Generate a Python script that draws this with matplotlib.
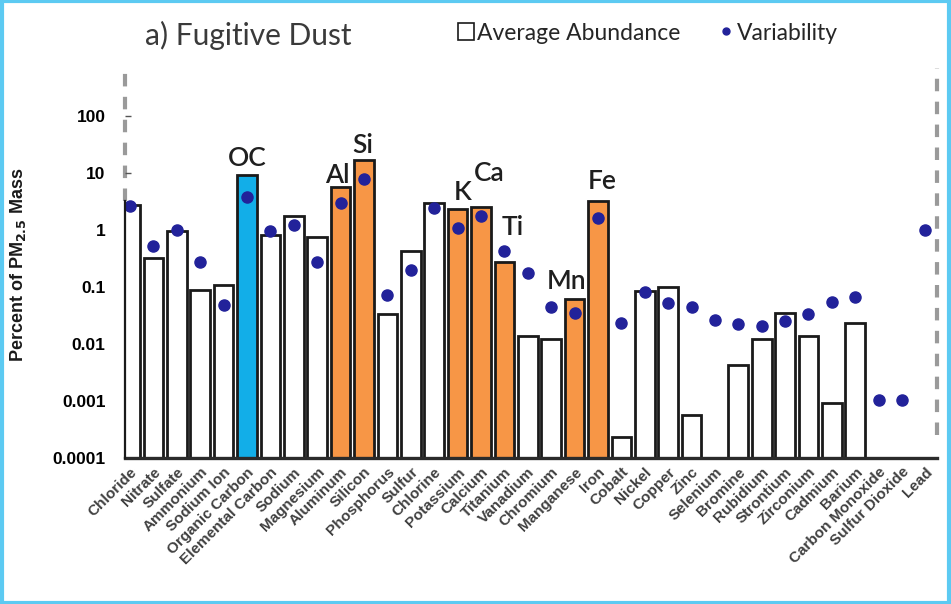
import matplotlib
matplotlib.use("Agg")
import matplotlib.pyplot as plt
import numpy as np
from matplotlib.patches import Patch, Rectangle
from matplotlib.lines import Line2D

# Species (x axis), in plotting order
species = [
    "Chloride", "Nitrate", "Sulfate", "Ammonium", "Sodium Ion",
    "Organic Carbon", "Elemental Carbon", "Sodium", "Magnesium", "Aluminum",
    "Silicon", "Phosphorus", "Sulfur", "Chlorine", "Potassium",
    "Calcium", "Titanium", "Vanadium", "Chromium", "Manganese",
    "Iron", "Cobalt", "Nickel", "Copper", "Zinc",
    "Selenium", "Bromine", "Rubidium", "Strontium", "Zirconium",
    "Cadmium", "Barium", "Carbon Monoxide", "Sulfur Dioxide", "Lead",
]

# Average abundance (% of PM2.5 mass); NaN = not reported
abundance = [
    2.8, 0.32, 0.97, 0.087, 0.11,
    9.3, 0.83, 1.74, 0.74, 5.6,
    16.7, 0.033, 0.43, 3.0, 2.36,
    2.5, 0.27, 0.0137, 0.012, 0.062,
    3.2, 0.00023, 0.084, 0.099, 0.00056,
    np.nan, 0.0043, 0.0124, 0.035, 0.0137,
    0.00093, 0.023, np.nan, np.nan, np.nan,
]

# Variability (% of PM2.5 mass)
variability = [
    2.67, 0.52, 1.0, 0.28, 0.048,
    3.8, 0.95, 1.24, 0.28, 2.97,
    7.9, 0.073, 0.2, 2.4, 1.1,
    1.74, 0.42, 0.176, 0.044, 0.035,
    1.62, 0.023, 0.081, 0.052, 0.044,
    0.026, 0.022, 0.021, 0.025, 0.034,
    0.054, 0.066, 0.00105, 0.00105, 1.0,
]

# Highlighted species: label text and bar colour
highlight = {
    "Organic Carbon": ("OC", "#12aee8"),
    "Aluminum": ("Al", "#f79646"),
    "Silicon": ("Si", "#f79646"),
    "Potassium": ("K", "#f79646"),
    "Calcium": ("Ca", "#f79646"),
    "Titanium": ("Ti", "#f79646"),
    "Manganese": ("Mn", "#f79646"),
    "Iron": ("Fe", "#f79646"),
}

# label anchor offsets (x shift in bar units, y factor on bar height)
label_pos = {
    "OC": (0.0, 1.95), "Al": (-0.15, 1.6), "Si": (-0.05, 1.8),
    "K": (0.2, 1.9), "Ca": (0.35, 3.9), "Ti": (0.35, 4.1),
    "Mn": (-0.35, 2.0), "Fe": (0.2, 2.2),
}

yticks = [1e-4, 1e-3, 1e-2, 1e-1, 1, 10, 100]
yticklabels = ["0.0001", "0.001", "0.01", "0.1", "1", "10", "100"]

fig = plt.figure(figsize=(9.51, 6.04), dpi=100)
ax = fig.add_axes([0.1314, 0.2417, 0.854, 0.6606])

x = np.arange(len(species))
colors = [highlight[s][1] if s in highlight else "white" for s in species]
ax.bar(x, abundance, width=0.84, color=colors, edgecolor="#1a1a1a",
       linewidth=2.0, zorder=2)
ax.plot(x, variability, linestyle="none", marker="o", markersize=8,
        color="#22229a", zorder=3)

ax.set_yscale("log")
ax.set_ylim(1e-4, 1e3)
ax.set_xlim(-0.22, len(species) - 0.5)

for s, (lab, _c) in highlight.items():
    i = species.index(s)
    dx, fy = label_pos[lab]
    ax.text(i + dx, abundance[i] * fy, lab, ha="center", va="center",
            fontsize=19, color="#1f1f1f", family="Lato", fontweight="semibold",
            zorder=4)

ax.set_yticks(yticks)
ax.set_yticklabels(yticklabels)
ax.yaxis.set_minor_locator(matplotlib.ticker.NullLocator())
ax.tick_params(axis="y", direction="in", length=4, width=1, pad=14,
               labelsize=12.5, color="#555555")
for t in ax.get_yticklabels():
    t.set_fontweight("bold")
    t.set_family("Liberation Sans")

ax.set_xticks(x)
ax.set_xticklabels(species, rotation=45, ha="right", rotation_mode="anchor",
                   fontsize=11, fontweight="bold", color="#404040",
                   family="Liberation Sans")
ax.tick_params(axis="x", length=0, pad=5)

# spines: solid lower left/bottom, dashed grey upper-left and right
for side in ("top", "right", "left"):
    ax.spines[side].set_visible(False)
ax.spines["bottom"].set_linewidth(2.4)
ax.spines["bottom"].set_color("#2b2b2b")
trans = ax.get_yaxis_transform()
ax.plot([0, 0], [1e-4, 3.2], transform=trans, color="#1a1a1a", lw=1.6,
        clip_on=False, zorder=5)
ax.plot([0, 0], [3.2, 700], transform=trans, color="#9a9a9a", lw=3,
        linestyle=(0, (3, 2.5)), clip_on=False, zorder=1)
ax.plot([1, 1], [2.5e-4, 700], transform=trans, color="#9a9a9a", lw=3,
        linestyle=(0, (3, 2.5)), clip_on=False, zorder=1)

fig.text(18 / 951, 1 - 265 / 604, "Percent of PM$_{\\mathbf{2.5}}$ Mass",
         rotation=90, ha="center", va="center", fontsize=13,
         fontweight="bold", family="Liberation Sans", color="#1a1a1a")

fig.text(145 / 951, 1 - 35 / 604, "a) Fugitive Dust", ha="left",
         va="center", fontsize=21.5, family="Lato", color="#3a3a3a")

handles = [
    Patch(facecolor="white", edgecolor="#1a1a1a", linewidth=1.2),
    Line2D([], [], linestyle="none", marker="o", markersize=5,
           color="#22229a"),
]
fig.legend(handles, ["Average Abundance", "Variability"], ncol=2,
           loc="center", bbox_to_anchor=(648 / 951, 1 - 33 / 604),
           frameon=False, handlelength=0.7, handleheight=0.7,
           handletextpad=0.15, columnspacing=1.6,
           prop={"family": "Lato", "size": 16.5}, labelcolor="#262626")

# thin cyan frame around the figure
fig.patches.append(Rectangle((0.002, 0.002), 0.996, 0.996,
                             transform=fig.transFigure, fill=False,
                             edgecolor="#5ccaf2", linewidth=3))

fig.savefig("out.png", dpi=100)
